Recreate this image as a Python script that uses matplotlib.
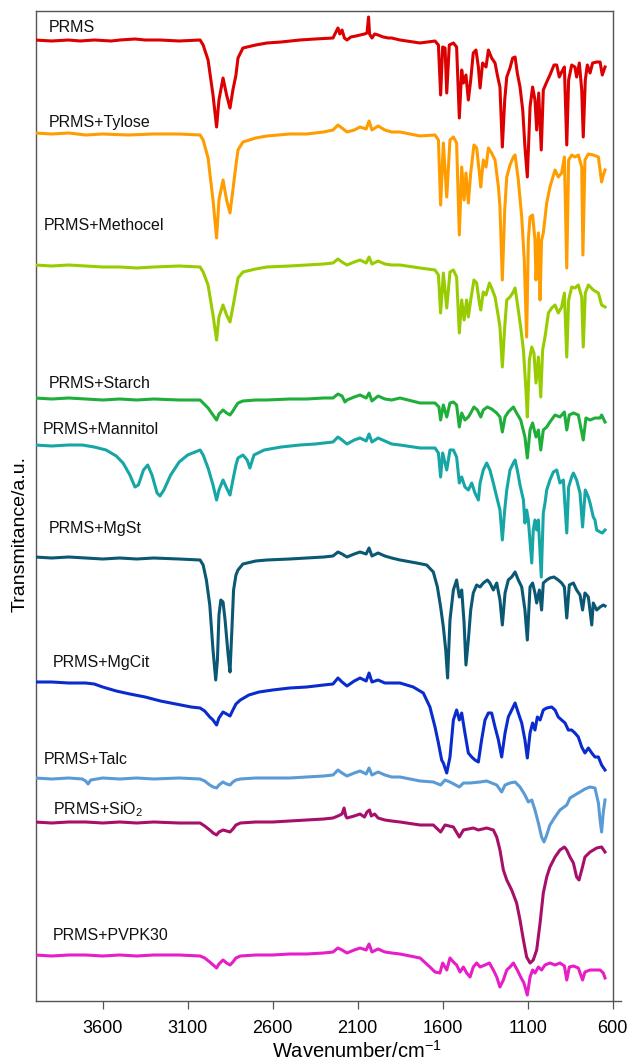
import numpy as np
import matplotlib
matplotlib.use("Agg")
import matplotlib.pyplot as plt

plt.rcParams['font.family'] = ['Liberation Sans', 'DejaVu Sans']
plt.rcParams['mathtext.fontset'] = 'custom'
plt.rcParams['mathtext.rm'] = 'Liberation Sans'

# --- DATA: (wavenumber cm-1, transmittance a.u., stacked) ---
PRMS = [(4000,960),(3900,959),(3800,960),(3733,959),(3650,960),(3550,959),(3498,960),(3410,961),(3350,960),
        (3263,960),(3150,959),(3027,960),(3009,955),(2980,940),(2951,905),(2930,873),(2916,900),(2892,922),
        (2871,905),(2851,892),(2834,910),(2816,925),(2804,942),(2775,952),(2700,955),(2634,957),(2550,958),
        (2440,960),(2350,961),(2245,962),(2228,968),(2216,972),(2205,966),(2192,970),(2178,962),(2163,960),
        (2140,963),(2110,964),(2086,965),(2060,966),(2045,967),(2036,983),(2030,966),(2016,962),(2000,966),
        (1980,965),(1950,963),(1920,962),(1900,962),
        (1851,960),(1733,957),(1645,959),(1625,955),(1612,905),(1600,953),(1586,952),(1576,907),(1561,955),
        (1537,957),(1518,953),(1502,882),(1488,930),(1478,917),(1463,925),(1449,900),(1435,920),(1420,947),
        (1404,950),(1390,933),(1380,912),(1365,937),(1345,933),(1331,950),(1312,942),(1292,937),(1276,923),
        (1263,913),(1249,853),(1235,900),(1223,923),(1204,932),(1188,942),(1174,943),(1161,927),(1145,913),
        (1129,890),(1116,853),(1102,823),(1086,893),(1071,913),(1057,900),(1047,870),(1035,907),(1020,850),
        (1008,910),(988,918),(969,925),(945,935),(929,935),(914,923),(900,928),(884,933),(870,855),(859,920),
        (841,935),(822,933),(812,923),(796,937),(782,910),(773,863),(761,920),(749,935),(733,927),(718,937),
        (694,938),(674,938),(661,925),(645,933)]

TYLOSE = [(4000,867),(3900,866),(3800,867),(3700,865),(3600,866),(3450,865),(3300,866),(3150,866),(3027,865),
          (3009,860),(2980,842),(2951,800),(2930,762),(2916,800),(2892,820),(2871,800),(2851,787),(2834,810),
          (2816,835),(2804,850),(2775,858),(2700,862),(2634,864),(2500,866),(2400,866),(2300,868),(2245,870),
          (2216,875),(2192,872),(2163,868),(2120,870),(2086,873),(2050,871),(2033,879),(2016,870),(1980,874),
          (1940,870),(1900,868),
          (1851,868),(1733,864),(1645,865),(1625,860),(1612,795),(1596,857),(1576,803),(1557,860),(1537,863),
          (1518,857),(1502,765),(1488,833),(1474,800),(1463,827),(1449,797),(1435,827),(1416,855),(1400,852),
          (1384,827),(1376,813),(1361,840),(1345,833),(1331,852),(1312,847),(1292,840),(1272,813),(1263,793),
          (1249,720),(1235,790),(1223,823),(1204,835),(1184,843),(1174,845),(1155,820),(1135,783),(1120,740),
          (1106,663),(1096,760),(1086,783),(1071,785),(1057,760),(1051,720),(1037,767),(1027,700),(1018,760),
          (1008,767),(988,797),(969,813),(939,830),(920,823),(900,827),(884,843),(870,732),(859,840),(841,845),
          (822,843),(802,845),(782,833),(775,745),(763,840),(743,846),(714,845),(684,843),(665,818),(655,825),
          (645,830)]

METHOCEL = [(4000,735),(3900,734),(3800,735),(3700,734),(3600,733),(3500,733),(3400,732),(3300,733),(3150,734),
            (3027,733),(3009,728),(2980,715),(2951,685),(2930,660),(2916,683),(2892,695),(2871,685),(2851,678),
            (2834,693),(2816,710),(2804,722),(2775,728),(2700,731),(2634,733),(2500,734),(2400,735),(2300,736),
            (2245,737),(2216,741),(2192,738),(2163,735),(2120,738),(2086,740),(2050,737),(2033,743),(2016,736),
            (1980,739),(1940,736),(1900,735),
            (1851,735),(1733,732),(1645,730),(1625,725),(1612,687),(1596,727),(1576,692),(1557,728),(1537,730),
            (1518,723),(1502,667),(1488,700),(1474,680),(1459,700),(1449,683),(1435,700),(1416,720),(1400,717),
            (1384,697),(1376,690),(1361,708),(1345,705),(1325,717),(1312,712),(1292,703),(1272,683),(1263,673),
            (1249,633),(1235,673),(1223,700),(1204,703),(1188,707),(1174,712),(1161,697),(1141,673),(1125,650),
            (1110,610),(1102,583),(1090,640),(1076,653),(1063,647),(1051,617),(1037,643),(1023,603),(1012,650),
            (998,663),(978,687),(959,692),(939,695),(920,687),(900,693),(884,707),(870,643),(859,700),(841,713),
            (822,712),(802,715),(782,703),(773,653),(761,707),(743,715),(714,710),(684,707),(665,695),(645,693)]

STARCH = [(4000,602),(3900,601),(3800,602),(3700,601),(3600,600),(3500,601),(3400,600),(3300,601),(3150,600),
          (3027,600),(3009,597),(2980,592),(2951,585),(2930,580),(2916,586),(2892,590),(2871,587),(2851,585),
          (2834,589),(2816,594),(2804,597),(2775,599),(2700,600),(2634,600),(2500,601),(2400,601),(2300,602),
          (2245,602),(2216,606),(2192,604),(2175,598),(2163,600),(2120,603),(2086,605),(2050,602),(2033,607),
          (2016,599),(1980,604),(1940,601),(1900,600),
          (1851,602),(1733,597),(1645,597),(1622,593),(1612,580),(1596,595),(1576,583),(1557,597),(1537,598),
          (1518,595),(1502,573),(1488,587),(1469,580),(1449,583),(1435,587),(1416,593),(1396,590),(1376,583),
          (1361,590),(1337,593),(1312,591),(1282,587),(1263,583),(1249,568),(1233,583),(1214,588),(1184,593),
          (1165,587),(1141,580),(1116,563),(1102,542),(1086,570),(1071,577),(1051,563),(1037,570),(1023,550),
          (1008,570),(988,573),(969,578),(939,585),(910,583),(884,588),(870,570),(855,585),(831,587),(802,585),
          (773,560),(757,582),(733,580),(704,582),(674,582),(665,585),(645,578)]

MANNITOL = [(4000,555),(3900,554),(3800,555),(3720,555),(3650,553),(3580,550),(3520,544),(3480,537),(3440,525),
            (3410,513),(3390,515),(3360,530),(3335,535),(3310,525),(3280,507),(3263,504),(3240,510),(3200,525),
            (3150,538),(3100,545),(3027,550),(3009,545),(2980,532),(2951,515),(2930,500),(2916,510),(2892,520),
            (2871,512),(2851,505),(2834,520),(2816,535),(2804,542),(2775,545),(2750,540),(2734,532),(2710,545),
            (2650,550),(2550,553),(2440,555),(2350,556),(2245,558),(2216,563),(2192,560),(2163,556),(2120,560),
            (2086,562),(2050,559),(2033,566),(2016,558),(1980,562),(1940,559),(1900,556),
            (1851,555),(1733,552),(1645,552),(1625,547),(1612,523),(1600,547),(1576,530),(1557,550),(1537,550),
            (1518,543),(1502,517),(1488,523),(1469,513),(1449,510),(1429,517),(1410,507),(1390,500),(1380,517),
            (1361,530),(1341,537),(1322,530),(1302,517),(1282,503),(1263,490),(1249,460),(1235,490),(1223,510),
            (1204,530),(1184,537),(1174,540),(1161,530),(1145,515),(1125,500),(1116,477),(1106,490),(1096,480),
            (1076,437),(1067,470),(1057,480),(1047,470),(1037,480),(1020,423),(1008,487),(998,497),(988,510),
            (969,520),(949,528),(929,530),(910,517),(890,520),(870,467),(859,513),(841,523),(831,527),(812,520),
            (792,507),(777,473),(761,510),(743,503),(733,497),(714,483),(704,480),(694,470),(674,468),(661,467),
            (645,470)]

MGST = [(4000,443),(3900,442),(3800,443),(3700,442),(3600,441),(3500,442),(3400,441),(3300,442),(3150,441),
        (3027,440),(3009,435),(2990,420),(2970,395),(2951,350),(2935,320),(2925,340),(2916,385),(2905,400),
        (2892,398),(2880,380),(2862,345),(2851,328),(2840,370),(2830,410),(2816,425),(2804,430),(2775,436),
        (2700,439),(2634,440),(2500,441),(2400,442),(2300,443),(2245,444),(2216,448),(2192,446),(2163,443),
        (2120,446),(2086,448),(2050,446),(2033,452),(2016,444),(1980,447),(1940,444),(1900,442),
        (1851,440),(1753,437),(1694,435),(1655,428),(1631,413),(1612,393),(1596,373),(1582,350),(1571,322),
        (1557,380),(1537,410),(1518,420),(1502,403),(1488,410),(1474,377),(1463,335),(1449,360),(1435,390),
        (1420,407),(1400,415),(1380,413),(1361,417),(1337,420),(1322,417),(1302,410),(1282,417),(1263,400),
        (1249,375),(1233,407),(1214,420),(1194,423),(1174,428),(1155,420),(1135,413),(1116,390),(1102,360),
        (1086,413),(1071,417),(1057,407),(1047,397),(1031,410),(1018,390),(1008,417),(988,420),(969,422),
        (945,423),(920,420),(900,417),(884,413),(870,382),(855,415),(831,417),(812,410),(792,405),(777,390),
        (763,407),(743,403),(723,375),(714,397),(694,390),(674,393),(655,395),(645,394)]

MGCIT = [(4000,318),(3900,318),(3800,317),(3700,317),(3650,316),(3600,313),(3520,309),(3440,306),(3350,303),
         (3260,299),(3170,296),(3080,293),(3027,292),(3000,289),(2970,283),(2951,280),(2930,275),(2916,282),
         (2892,288),(2871,286),(2851,284),(2834,290),(2816,296),(2790,300),(2740,305),(2680,308),(2600,310),
         (2500,312),(2400,313),(2300,315),(2245,316),(2216,322),(2192,318),(2163,314),(2120,319),(2086,322),
         (2050,319),(2033,327),(2016,318),(1980,320),(1940,317),(1900,317),
         (1851,317),(1773,313),(1714,307),(1675,293),(1645,273),(1625,257),(1606,240),(1596,237),(1576,227),
         (1557,243),(1537,280),(1518,290),(1502,280),(1488,287),(1469,267),(1449,247),(1429,243),(1410,240),
         (1390,238),(1371,260),(1351,280),(1331,287),(1312,287),(1292,273),(1272,260),(1253,243),(1233,267),
         (1214,283),(1194,290),(1174,297),(1155,287),(1135,277),(1116,260),(1102,242),(1086,267),(1071,277),
         (1057,270),(1043,283),(1027,280),(1008,290),(988,292),(959,293),(939,290),(920,283),(900,280),
         (880,277),(861,270),(841,270),(822,267),(802,263),(782,253),(763,247),(743,252),(723,247),(704,243),
         (684,243),(665,235),(645,230)]

TALC = [(4000,222),(3900,221),(3800,222),(3720,221),(3700,219),(3686,216),(3670,220),(3600,222),(3500,221),
        (3400,222),(3300,221),(3150,222),(3027,221),(3000,219),(2970,215),(2950,213),(2930,212),(2916,215),
        (2892,218),(2871,216),(2851,215),(2834,218),(2816,220),(2790,221),(2700,222),(2600,222),(2500,222),
        (2400,223),(2300,224),(2245,225),(2216,230),(2192,227),(2163,224),(2120,227),(2086,229),(2050,226),
        (2033,232),(2016,225),(1980,228),(1940,225),(1900,223),
        (1851,223),(1733,219),(1655,218),(1612,215),(1586,220),(1557,218),(1502,213),(1478,217),(1439,217),
        (1380,218),(1341,219),(1282,215),(1253,208),(1233,215),(1204,217),(1174,218),(1145,213),(1116,205),
        (1096,198),(1076,200),(1057,190),(1037,177),(1018,163),(1004,158),(988,165),(969,175),(939,183),
        (910,190),(870,195),(851,202),(822,205),(792,208),(763,211),(733,213),(704,212),(684,197),(674,180),
        (665,168),(655,188),(645,200)]

SIO2 = [(4000,178),(3900,177),(3800,178),(3700,178),(3600,177),(3500,178),(3400,177),(3300,178),(3150,177),
        (3027,177),(3000,174),(2970,170),(2950,167),(2930,165),(2916,168),(2892,170),(2871,169),(2851,168),
        (2834,171),(2816,175),(2790,177),(2700,178),(2600,178),(2500,179),(2400,180),(2300,181),(2245,182),
        (2216,184),(2192,186),(2180,192),(2170,184),(2163,182),(2120,184),(2086,186),(2060,183),(2045,188),
        (2030,190),(2020,184),(2000,186),(1980,182),(1940,180),(1900,179),
        (1851,178),(1733,175),(1655,175),(1612,168),(1586,175),(1537,173),(1502,163),(1478,170),(1420,172),
        (1390,170),(1341,172),(1302,170),(1282,163),(1263,150),(1243,130),(1223,120),(1194,110),(1165,97),
        (1145,80),(1125,60),(1106,43),(1086,37),(1067,40),(1047,50),(1027,77),(1008,107),(988,123),(969,133),
        (939,143),(910,150),(884,153),(870,150),(851,143),(831,137),(812,123),(798,120),(782,130),(763,143),
        (733,148),(694,152),(665,153),(645,148)]

PVPK30 = [(4000,45),(3900,44),(3800,45),(3700,45),(3600,44),(3500,45),(3400,44),(3300,45),(3150,45),
          (3027,44),(3000,42),(2970,38),(2950,35),(2930,32),(2916,36),(2892,40),(2871,37),(2851,35),(2834,38),
          (2816,42),(2790,44),(2700,45),(2600,45),(2500,46),(2400,46),(2300,47),(2245,48),(2216,52),(2192,50),
          (2163,47),(2120,50),(2086,52),(2050,50),(2033,56),(2016,48),(1980,51),(1940,48),(1900,47),
          (1851,46),(1733,42),(1675,33),(1645,28),(1616,27),(1600,37),(1576,30),(1557,42),(1537,38),(1518,35),
          (1498,28),(1478,33),(1459,27),(1439,23),(1420,33),(1400,37),(1380,33),(1351,35),(1325,37),(1302,30),
          (1282,23),(1263,13),(1243,20),(1223,30),(1204,33),(1184,37),(1161,30),(1141,23),(1122,17),(1102,5),
          (1086,23),(1071,30),(1057,27),(1037,33),(1018,30),(998,35),(969,37),(939,35),(910,37),(884,34),
          (870,20),(855,33),(831,34),(802,32),(777,20),(763,28),(733,30),(704,30),(674,30),(655,27),(645,22)]

SPECTRA = [PRMS, TYLOSE, METHOCEL, STARCH, MANNITOL, MGST, MGCIT, TALC, SIO2, PVPK30]
LABELS = ["PRMS", "PRMS+Tylose", "PRMS+Methocel", "PRMS+Starch", "PRMS+Mannitol",
          "PRMS+MgSt", "PRMS+MgCit", "PRMS+Talc", "PRMS+SiO$_\\mathregular{2}$", "PRMS+PVPK30"]
# label anchor (wavenumber, a.u.)
LABEL_POS = [(3920, 972), (3920, 878), (3945, 775), (3920, 617), (3950, 570),
             (3920, 472), (3895, 337), (3945, 240), (3895, 190), (3895, 65)]
COLORS = ["#dc0000", "#ff9c00", "#99cc00", "#1fae3a", "#17a6a6",
          "#0b5874", "#0a2ccc", "#5b9bd5", "#a6106a", "#e61ec8"]
XTICKS = [3600, 3100, 2600, 2100, 1600, 1100, 600]

fig = plt.figure(figsize=(6.32, 10.64), dpi=100)
ax = fig.add_axes([35.7 / 632, 1 - 1001 / 1064, (613 - 35.7) / 632, (1001 - 10.7) / 1064])

for i, (spec, lab, pos, col) in enumerate(zip(SPECTRA, LABELS, LABEL_POS, COLORS)):
    arr = np.array(spec, dtype=float)
    ax.plot(arr[:, 0], arr[:, 1], color=col, lw=2.2, solid_joinstyle='round', zorder=20 - i)
    ax.text(pos[0], pos[1], lab, fontsize=11.5, ha='left', va='center', color='#111111')

ax.set_xlim(3994, 598)
ax.set_ylim(-1, 989.3)
ax.set_yticks([])
ax.set_xticks(XTICKS)
ax.set_xticklabels([str(t) for t in XTICKS], fontsize=13)
ax.tick_params(axis='x', direction='out', length=5.5, width=0.9, color='#555555', pad=8)
for sp in ax.spines.values():
    sp.set_color('#555555')
    sp.set_linewidth(1.0)
# bottom axis line runs a little past the right frame, as in the original
ax.plot([1, 1.014], [0, 0], transform=ax.transAxes, clip_on=False, color='#555555', lw=1.0)

fig.text(357 / 632, 1 - 1051 / 1064, "Wavenumber/cm$^{\\mathregular{-1}}$", fontsize=14.5,
         ha='center', va='center')
fig.text(20 / 632, 1 - 534 / 1064, "Transmitance/a.u.", fontsize=14, rotation=90,
         ha='center', va='center')

fig.savefig("out.png", dpi=100)
